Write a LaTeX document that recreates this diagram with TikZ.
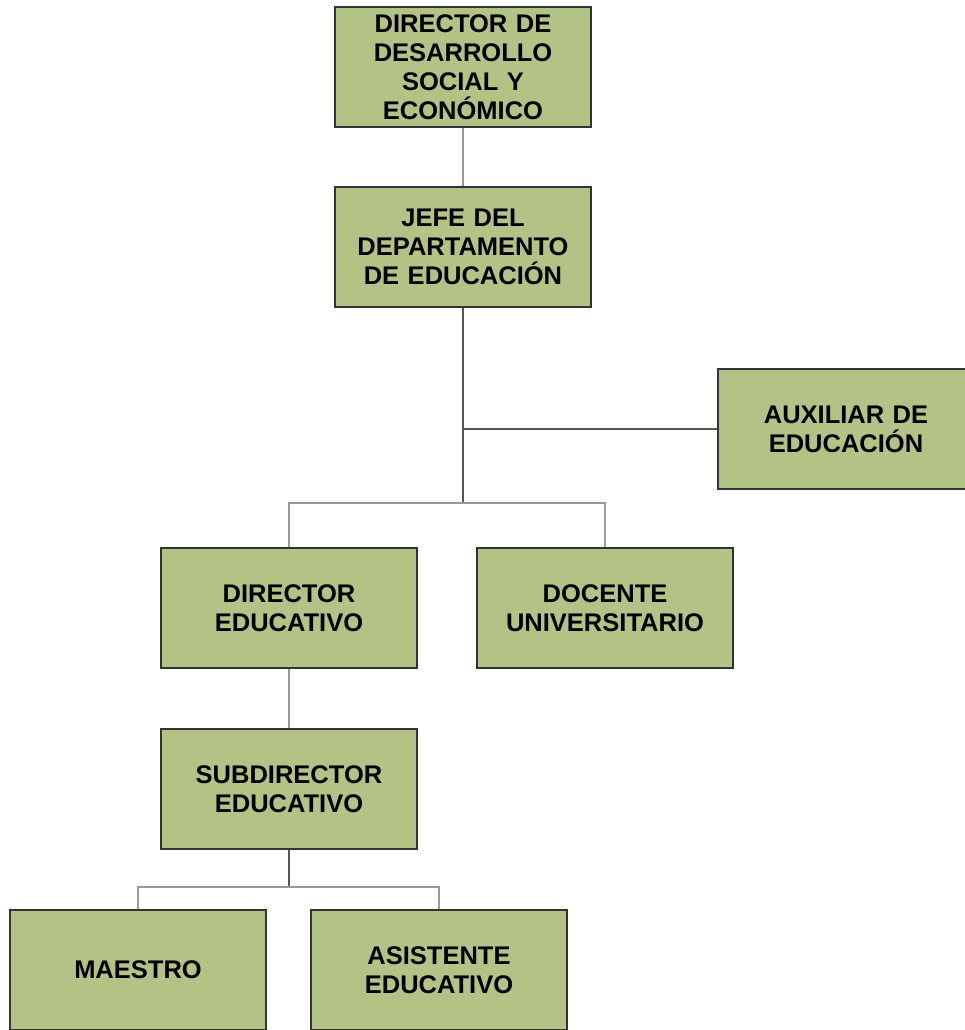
\documentclass[tikz,border=0pt]{standalone}
\usepackage{fontspec}
\setmainfont{Liberation Sans}
\definecolor{boxfill}{HTML}{B3C386}
\definecolor{boxline}{HTML}{333333}
\definecolor{darkline}{HTML}{555555}
\definecolor{lightline}{HTML}{9A9A9A}
\tikzset{
  orgbox/.style={draw=boxline, line width=1.2pt, fill=boxfill, minimum width=256pt, minimum height=120pt,
    inner sep=0pt, align=center, font=\bfseries\fontsize{25.5}{29}\selectfont, text width=250pt},
  darkconn/.style={draw=darkline, line width=2pt},
  lightconn/.style={draw=lightline, line width=1.6pt},
}
\begin{document}
\begin{tikzpicture}[x=1pt,y=-1pt]
\useasboundingbox (0,0) rectangle (965,1030);
\node[orgbox] (dir) at (463,67) {DIRECTOR DE\\DESARROLLO\\SOCIAL Y\\ECONÓMICO};
\node[orgbox] (jefe) at (463,247) {JEFE DEL\\DEPARTAMENTO\\DE EDUCACIÓN};
\node[orgbox] (aux) at (846,429) {AUXILIAR DE\\EDUCACIÓN};
\node[orgbox] (dired) at (289,608) {DIRECTOR\\EDUCATIVO};
\node[orgbox] (doc) at (605,608) {DOCENTE\\UNIVERSITARIO};
\node[orgbox] (sub) at (289,789) {SUBDIRECTOR\\EDUCATIVO};
\node[orgbox] (mae) at (138,970) {MAESTRO};
\node[orgbox] (asi) at (439,970) {ASISTENTE\\EDUCATIVO};
\coordinate (j1) at (463,503);
\coordinate (j2) at (463,429);
\coordinate (s1) at (289,887);
% connectors
\draw[lightconn] (dir.south) -- (jefe.north);
\draw[darkconn] (jefe.south) -- (j1);
\draw[darkconn, line width=1.5pt] (j2) -- (aux.west);
\draw[lightconn] (dired.north) |- (j1) -| (doc.north);
\draw[lightconn] (dired.south) -- (sub.north);
\draw[darkconn] (sub.south) -- (s1);
\draw[lightconn] (mae.north) |- (s1) -| (asi.north);
\end{tikzpicture}
\end{document}
